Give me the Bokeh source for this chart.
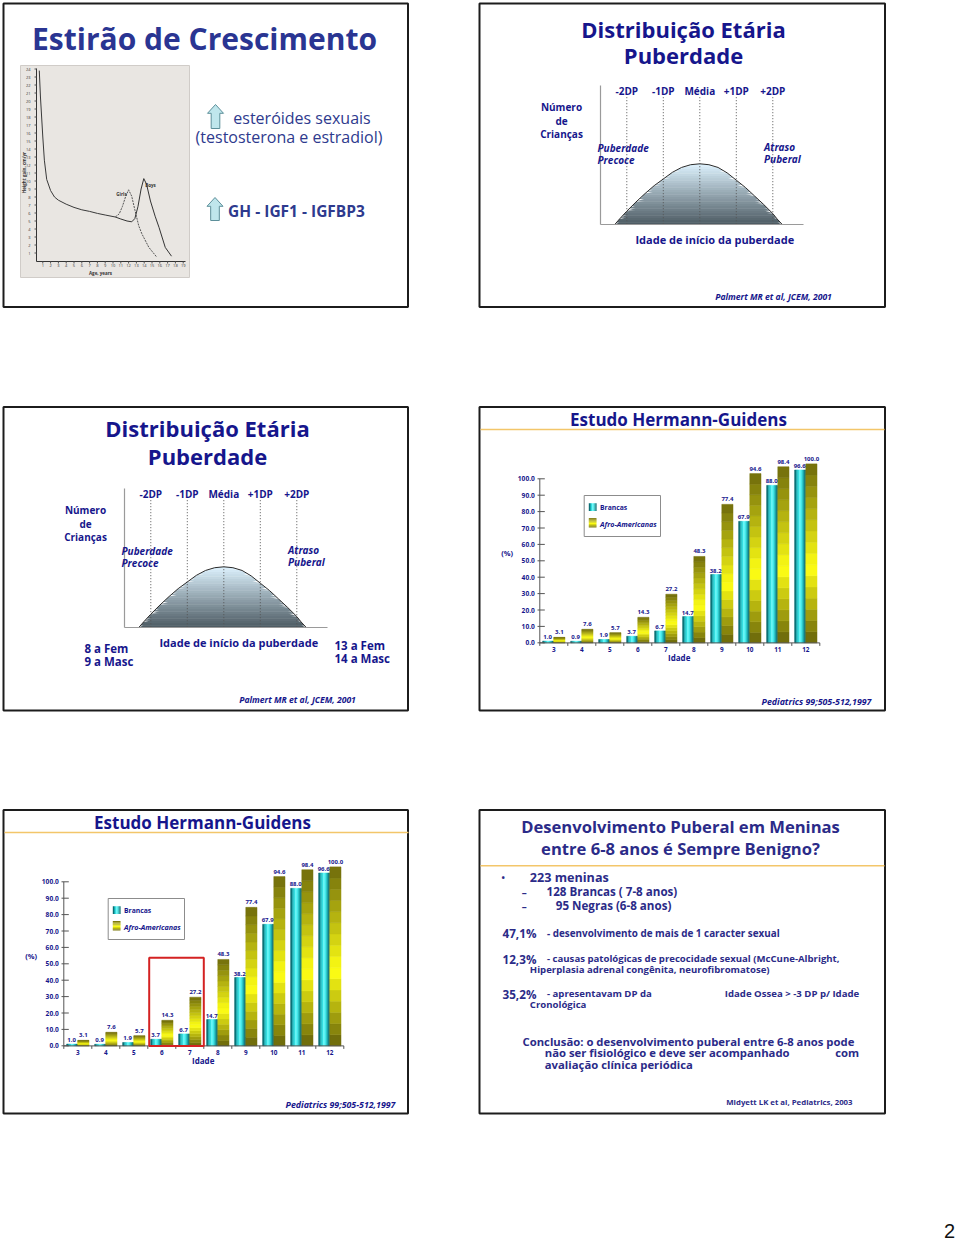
import math
from bokeh.plotting import figure
from bokeh.models import Range1d, ColumnDataSource
from bokeh.transform import dodge
from bokeh.core.properties import value
from bokeh.embed import file_html
from bokeh.resources import INLINE

# ---------------- data ----------------
ages = [3, 4, 5, 6, 7, 8, 9, 10, 11, 12]
brancas = [1.0, 0.9, 1.9, 3.7, 6.7, 14.7, 38.2, 67.9, 88.0, 96.6]
afro = [3.1, 7.6, 5.7, 14.3, 27.2, 48.3, 77.4, 94.6, 98.4, 100.0]
pct_ticks = [0, 10, 20, 30, 40, 50, 60, 70, 80, 90, 100]
pct_labels = ["0.0", "10.0", "20.0", "30.0", "40.0", "50.0",
              "60.0", "70.0", "80.0", "90.0", "100.0"]

sd_marks = [-2, -1, 0, 1, 2]
sd_labels = ["-2DP", "-1DP", "Média", "+1DP", "+2DP"]
bell_sd = [-2.33, -2.2, -2.0, -1.75, -1.5, -1.25, -1.0, -0.75, -0.5, -0.25, 0.0,
           0.25, 0.5, 0.75, 1.0, 1.25, 1.5, 1.75, 2.0, 2.12, 2.26]
bell_h = [0.0, 0.09, 0.22, 0.37, 0.51, 0.64, 0.75, 0.86, 0.94, 0.985, 1.0,
          0.985, 0.94, 0.85, 0.73, 0.61, 0.47, 0.33, 0.18, 0.09, 0.0]

common_age = [0.55, 0.7, 0.85, 1.0, 1.2, 1.5, 2.0, 2.5, 3.0, 4.0, 5.0, 6.0, 7.0, 8.0, 9.0, 10.3]
common_vel = [23.8, 20.5, 18.0, 15.5, 12.6, 10.2, 8.8, 8.0, 7.6, 7.1, 6.7, 6.4, 6.2, 5.95, 5.75, 5.5]
girls_age = [10.3, 10.8, 11.2, 11.6, 12.0, 12.4, 12.8, 13.3, 13.7, 14.6, 15.6]
girls_vel = [5.5, 5.9, 6.8, 8.0, 8.9, 8.1, 6.4, 4.4, 3.4, 1.7, 0.5]
boys_age = [10.3, 11.0, 11.8, 12.4, 12.8, 13.2, 13.6, 13.95, 14.3, 14.8, 15.4, 15.9, 16.7, 17.5]
boys_vel = [5.5, 5.25, 5.0, 4.9, 5.3, 6.8, 9.0, 10.3, 9.6, 7.5, 5.6, 4.2, 1.7, 0.6]
growth_yticks = list(range(1, 25))
growth_xticks = list(range(1, 20))

# ---------------- canvas ----------------
X0, X1, Y0, Y1 = 0, 960, 0, 1242
p = figure(width=960, height=1242, x_range=Range1d(X0, X1), y_range=Range1d(Y1, Y0),
           x_axis_location=None, y_axis_location=None, toolbar_location=None,
           output_backend="svg", min_border=0)
p.xgrid.visible = False
p.ygrid.visible = False
p.outline_line_color = None
p.background_fill_color = "white"
p.border_fill_color = "white"

NAVY = "#16168c"
FONT = "Open Sans"


def xr(name, va, pa, vb, pb):
    k = (pb - pa) / (vb - va)
    inv = lambda P: va + (P - pa) / k
    p.extra_x_ranges[name] = Range1d(inv(X0), inv(X1))


def yr(name, va, pa, vb, pb):
    k = (pb - pa) / (vb - va)
    inv = lambda P: va + (P - pa) / k
    p.extra_y_ranges[name] = Range1d(inv(Y1), inv(Y0))


def T(x, y, s, size, color=NAVY, bold=True, italic=False, align="left",
      baseline="middle", font=FONT, angle=0.0):
    style = "bold italic" if (bold and italic) else ("bold" if bold else ("italic" if italic else "normal"))
    p.text(x=[x], y=[y], text=[s], text_font=value(font), text_font_size=f"{size}px",
           text_font_style=style, text_color=color, text_align=align,
           text_baseline=baseline, angle=angle)


def border(x0, y0, x1, y1):
    p.quad(left=x0, right=x1, top=y0, bottom=y1, fill_color="white",
           line_color="#1c1c1c", line_width=2)


def mix(c1, c2, t):
    a = [int(c1[i:i + 2], 16) for i in (1, 3, 5)]
    b = [int(c2[i:i + 2], 16) for i in (1, 3, 5)]
    return "#%02x%02x%02x" % tuple(int(round(a[i] + (b[i] - a[i]) * t)) for i in range(3))


# slide borders
border(3, 3, 407.5, 306.5)
border(479, 3, 884.5, 306.5)
border(3, 406.5, 407.5, 710)
border(479, 406.5, 884.5, 710)
border(3, 809.5, 407.5, 1113)
border(479, 809.5, 884.5, 1113)

# ================= slide 1 =================
T(204, 38, "Estirão de Crescimento", 30, color="#2a3592", align="center")
p.quad(left=20, right=189, top=65, bottom=277, fill_color="#e9e6e2", line_color="#d0ccc8")
xr("gx", 0, 34.5, 10, 112.5)
yr("gy", 0, 260.5, 10, 180.5)
p.segment(x0=36, x1=185, y0=261, y1=261, line_color="#333333", line_width=1)
p.segment(x0=36, x1=36, y0=68, y1=261, line_color="#333333", line_width=1)
gsrc_y = ColumnDataSource(dict(v=growth_yticks, lbl=[str(v) for v in growth_yticks]))
p.text(x=30, y="v", text="lbl", source=gsrc_y, y_range_name="gy", text_font=value(FONT),
       text_font_size="4px", text_color="#333333", text_align="right", text_baseline="middle")
p.segment(x0=34, x1=36, y0="v", y1="v", source=gsrc_y, y_range_name="gy", line_color="#555555")
gsrc_x = ColumnDataSource(dict(v=growth_xticks, lbl=[str(v) for v in growth_xticks]))
p.text(x="v", y=265, text="lbl", source=gsrc_x, x_range_name="gx", text_font=value(FONT),
       text_font_size="4px", text_color="#333333", text_align="center", text_baseline="middle")
p.segment(x0="v", x1="v", y0=261, y1=263, source=gsrc_x, x_range_name="gx", line_color="#555555")
T(100, 272, "Age, years", 4.5, color="#333333", align="center")
T(23, 172, "Height gain, cm/yr", 4.5, color="#333333", align="center", angle=math.pi / 2)
p.line(common_age, common_vel, x_range_name="gx", y_range_name="gy", line_color="#3a3a3a", line_width=1)
p.line(girls_age, girls_vel, x_range_name="gx", y_range_name="gy", line_color="#555555",
       line_width=1, line_dash="2 1")
p.line(boys_age, boys_vel, x_range_name="gx", y_range_name="gy", line_color="#333333", line_width=1)
T(121, 193, "Girls", 4.5, color="#333333", align="center")
T(150, 184, "Boys", 4.5, color="#333333", align="center")


def up_arrow(cx, ytop, ybot, w=16):
    hw = w / 2
    sw = w * 0.27
    yh = ytop + w * 0.55
    xs = [cx, cx + hw, cx + sw, cx + sw, cx - sw, cx - sw, cx - hw]
    ys = [ytop, yh, yh, ybot, ybot, yh, yh]
    p.patch(xs, ys, fill_color="#bfe6ec", line_color="#5d8f9a", line_width=1)


up_arrow(215, 104, 128)
up_arrow(214.5, 197, 220)
T(301.5, 117, "esteróides sexuais", 16, color="#2e3a8e", bold=False, align="center")
T(288.5, 136, "(testosterona e estradiol)", 16, color="#2e3a8e", bold=False, align="center")
T(296, 210, "GH - IGF1 - IGFBP3", 15.5, color="#2e3a8e", align="center")


# ================= slides 2 & 3 (bell) =================
def bell_slide(dx, dy, tag, t1y, t2y, extra=False):
    T(683 + dx, t1y, "Distribuição Etária", 22, align="center")
    T(683 + dx, t2y, "Puberdade", 22, align="center")
    bxn, byn = "bx" + tag, "by" + tag
    xr(bxn, 0, 699.3 + dx, 1, 735.8 + dx)
    yr(byn, 0, 224 + dy, 1, 163.3 + dy)
    # gradient fill via horizontal bands
    N = 26
    top_c, bot_c = "#dcf1fd", "#4b5961"
    for i in range(N):
        a, b = i / N, (i + 1) / N
        y2 = [min(max(h, a), b) for h in bell_h]
        y1 = [max(a - 0.008, 0) if h > a else a for h in bell_h]
        p.varea(x=bell_sd, y1=y1, y2=y2, x_range_name=bxn,
                y_range_name=byn, fill_color=mix(bot_c, top_c, (i + 0.5) / N))
    # white mask above the curve to tidy the band edges
    mx = bell_sd + [bell_sd[-1] + 0.3, bell_sd[-1] + 0.3, bell_sd[0] - 0.3, bell_sd[0] - 0.3]
    my = bell_h + [0.0, 1.08, 1.08, 0.0]
    p.patch(mx, my, x_range_name=bxn, y_range_name=byn, fill_color="white", line_color=None)
    p.line(bell_sd, bell_h, x_range_name=bxn, y_range_name=byn,
           line_color="#2a2a2a", line_width=1)
    # dotted sd lines
    p.segment(x0=sd_marks, x1=sd_marks, y0=96.7 + dy, y1=224 + dy, x_range_name=bxn,
              line_color="#555555", line_width=1, line_dash="1 2")
    src = ColumnDataSource(dict(sd=sd_marks, lbl=sd_labels))
    p.text(x="sd", y=90 + dy, text="lbl", source=src, x_range_name=bxn,
           text_font=value(FONT), text_font_size="10px", text_font_style="bold",
           text_color=NAVY, text_align="center", text_baseline="middle")
    # axes
    p.segment(x0=600 + dx, x1=600 + dx, y0=85 + dy, y1=224 + dy, line_color="#9a9a9a", line_width=1.2)
    p.segment(x0=600 + dx, x1=803 + dx, y0=224 + dy, y1=224 + dy, line_color="#9a9a9a", line_width=1.2)
    T(561 + dx, 106.7 + dy, "Número", 10, align="center")
    T(561 + dx, 120 + dy, "de", 10, align="center")
    T(561 + dx, 133.3 + dy, "Crianças", 10, align="center")
    T(597 + dx, 147.7 + dy, "Puberdade", 10, italic=True)
    T(597 + dx, 159.3 + dy, "Precoce", 10, italic=True)
    T(763.5 + dx, 146.7 + dy, "Atraso", 10, italic=True)
    T(763.5 + dx, 158.3 + dy, "Puberal", 10, italic=True)
    T(714.3 + dx, 239.3 + dy, "Idade de início da puberdade", 11, align="center")
    T(773 + dx, 296 + dy, "Palmert MR et al, JCEM, 2001", 8.6, italic=True, align="center")
    if extra:
        T(84, 648, "8 a Fem", 11.5)
        T(84, 661, "9 a Masc", 11.5)
        T(334, 645, "13 a Fem", 11.5)
        T(334, 658, "14 a Masc", 11.5)


bell_slide(0, 0, "2", 28, 54.5)
bell_slide(-476, 403, "3", 427, 455, extra=True)


# ================= slides 4 & 5 (bars) =================
def afro_color(f, olive_bot, yel, olive_top):
    if f < 0.42:
        return mix(olive_bot, yel, f / 0.42)
    return mix(yel, olive_top, (f - 0.42) / 0.58)


def bar_slide(dx, dy, tag, red_box=False):
    cx0 = 539.3 + dx
    base = 642.4 + dy
    T(678 + dx, 419 + dy, "Estudo Hermann-Guidens", 17, align="center")
    p.segment(x0=480 + dx, x1=884 + dx, y0=429 + dy, y1=429 + dy, line_color="#f3c66a", line_width=1.5)
    bx, by, ay = "cx" + tag, "cy" + tag, "ay" + tag
    xr(bx, 2.5, cx0, 12.5, cx0 + 280)
    yr(by, 0, base, 100, base - 179)
    yr(ay, 0, 642.3 + dy, 100, 478.3 + dy)

    n = 16
    data = dict(age=ages, br=brancas, af=afro,
                br_lbl=["%.1f" % v for v in brancas], af_lbl=["%.1f" % v for v in afro])
    for i in range(n):
        data["t%d" % i] = [v * (i + 1) / n for v in afro]
        data["b%d" % i] = [v * i / n for v in afro]
    src = ColumnDataSource(data)

    # Brancas: horizontal cyan gradient
    cols = ["#0b6a70", "#17a9ae", "#34dcdf", "#66f7f7", "#41e6e8", "#1bb3b6", "#0a6e73"]
    m = len(cols)
    for j, c in enumerate(cols):
        p.vbar(x=dodge("age", -0.4 + (j + 0.5) * 0.4 / m), width=0.4 / m, top="br", bottom=0,
               source=src, x_range_name=bx, y_range_name=by, fill_color=c, line_color=c,
               line_width=0.5)
    # Afro: vertical yellow/olive gradient
    olive_top, olive_bot, yel = "#6f6b0c", "#66620a", "#ffff14"
    for i in range(n):
        c = afro_color((i + 0.5) / n, olive_bot, yel, olive_top)
        p.vbar(x=dodge("age", 0.2), width=0.4, top="t%d" % i, bottom="b%d" % i,
               source=src, x_range_name=bx, y_range_name=by, fill_color=c, line_color=c,
               line_width=0.5)

    # value labels
    p.text(x=dodge("age", -0.22), y="br", text="br_lbl", source=src, x_range_name=bx, y_range_name=by,
           y_offset=-2, text_font=value(FONT), text_font_size="6px", text_font_style="bold",
           text_color=NAVY, text_align="center", text_baseline="bottom")
    p.text(x=dodge("age", 0.2), y="af", text="af_lbl", source=src, x_range_name=bx, y_range_name=by,
           y_offset=-3, text_font=value(FONT), text_font_size="6px", text_font_style="bold",
           text_color=NAVY, text_align="center", text_baseline="bottom")

    # axes
    tsrc = ColumnDataSource(dict(v=pct_ticks, lbl=pct_labels))
    p.segment(x0=cx0, x1=cx0, y0=0, y1=100, y_range_name=ay, line_color="#555555", line_width=1)
    p.segment(x0=cx0 - 2.3, x1=cx0 + 5, y0="v", y1="v", source=tsrc, y_range_name=ay,
              line_color="#555555", line_width=1)
    p.text(x=cx0 - 5, y="v", text="lbl", source=tsrc, y_range_name=ay, text_font=value(FONT),
           text_font_size="6.6px", text_font_style="bold", text_color=NAVY,
           text_align="right", text_baseline="middle")
    p.segment(x0=2.5, x1=12.5, y0=base, y1=base, x_range_name=bx, line_color="#555555", line_width=1)
    bounds = [a - 0.5 for a in ages] + [ages[-1] + 0.5]
    p.segment(x0=bounds, x1=bounds, y0=base, y1=base + 3, x_range_name=bx,
              line_color="#555555", line_width=1)
    p.text(x="age", y=648.5 + dy, text="age", source=src, x_range_name=bx, text_font=value(FONT),
           text_font_size="6.4px", text_font_style="bold", text_color=NAVY,
           text_align="center", text_baseline="middle")
    T(506.7 + dx, 552.7 + dy, "(%)", 7.5, align="center")
    T(678.7 + dx, 657.3 + dy, "Idade", 8, align="center")

    # legend
    p.quad(left=583.7 + dx, right=660 + dx, top=495 + dy, bottom=536 + dy,
           fill_color="white", line_color="#8c8c8c", line_width=1)
    sw = (596 - 588.3) / m
    for j, c in enumerate(cols):
        p.quad(left=588.3 + dx + j * sw, right=588.3 + dx + (j + 1) * sw + 0.1,
               top=502.7 + dy, bottom=510.5 + dy, fill_color=c, line_color=None)
    k = 8
    for i in range(k):
        c = afro_color((i + 0.5) / k, olive_bot, yel, olive_top)
        yb = 527 + dy - i * (9.3 / k)
        p.quad(left=588.3 + dx, right=596 + dx, top=yb - 9.3 / k - 0.1, bottom=yb,
               fill_color=c, line_color=None)
    T(599.5 + dx, 507 + dy, "Brancas", 6.8)
    T(599.5 + dx, 523 + dy, "Afro-Americanas", 7.2, italic=True)

    T(816 + dx, 701.7 + dy, "Pediatrics 99;505-512,1997", 8.8, italic=True, align="center")

    if red_box:
        p.quad(left=5.55, right=7.5, bottom=0, top=49.2, x_range_name=bx, y_range_name=by,
               fill_color=None, line_color="#d42222", line_width=2)


bar_slide(0, 0, "4")
bar_slide(-476, 403, "5", red_box=True)

# ================= slide 6 =================
C6 = "#2b2b88"
T(680, 826.3, "Desenvolvimento Puberal em Meninas", 16.6, color=C6, align="center")
T(680, 848, "entre 6-8 anos é Sempre Benigno?", 16.6, color=C6, align="center")
p.segment(x0=480, x1=884, y0=865.3, y1=865.3, line_color="#f3c66a", line_width=1.5)
T(502.7, 877, "•", 9, color=C6, align="center")
T(529.3, 877, "223 meninas", 12.6, color=C6)
T(523.7, 891.3, "–", 10, color=C6, align="center")
T(546, 891.3, "128 Brancas ( 7-8 anos)", 11.6, color=C6)
T(523.7, 905.3, "–", 10, color=C6, align="center")
T(555.3, 905.3, "95 Negras   (6-8 anos)", 11.6, color=C6)

T(502, 932.3, "47,1%", 11.7, color=C6)
T(546.5, 932.5, "- desenvolvimento de mais de 1 caracter sexual", 9.9, color=C6)
T(502, 958, "12,3%", 11.7, color=C6)
T(546.5, 958.2, "- causas patológicas de precocidade sexual (McCune-Albright,", 9.6, color=C6)
T(529.3, 968.8, "Hiperplasia adrenal congênita, neurofibromatose)", 9.6, color=C6)
T(502, 993, "35,2%", 11.7, color=C6)
T(546.5, 993.2, "- apresentavam DP da", 9.6, color=C6)
T(858.7, 993.2, "Idade Ossea > -3 DP p/ Idade", 9.6, color=C6, align="right")
T(529.3, 1004, "Cronológica", 9.6, color=C6)

T(522, 1041.3, "Conclusão: o desenvolvimento puberal entre 6-8 anos pode", 11.3, color=C6)
T(544.3, 1052.3, "não ser fisiológico e deve ser acompanhado", 11.3, color=C6)
T(858.7, 1052.3, "com", 11.3, color=C6, align="right")
T(544.3, 1063.7, "avaliação clínica periódica", 11.3, color=C6)
T(852, 1101.3, "Midyett LK et al, Pediatrics, 2003", 7.8, color=C6, align="right")

# page number
T(949, 1230, "2", 20, color="#111111", bold=False, align="center", font="Liberation Sans")

open("out.html", "w").write(file_html(p, INLINE))
